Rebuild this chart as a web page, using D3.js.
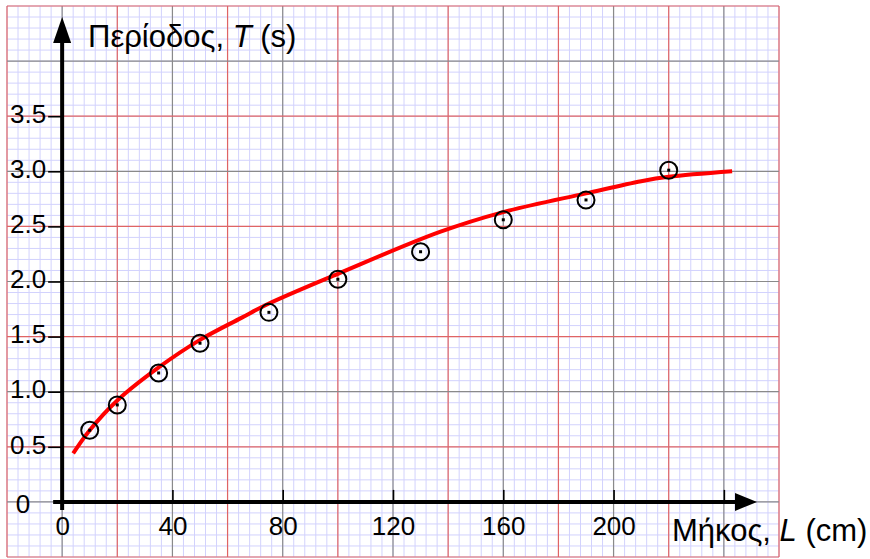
<!DOCTYPE html>
<html>
<head>
<meta charset="utf-8">
<script src="https://cdn.jsdelivr.net/npm/d3@7"></script>
<style>
  html, body { margin: 0; padding: 0; background: #fff; }
  svg { display: block; font-family: Arial, "Liberation Sans", sans-serif; }
</style>
</head>
<body>
<svg id="chart" width="870" height="559"></svg>
<script>
// Pendulum measurements: length L (cm) and period T (s)
const lengths = [10, 20, 35, 50, 75, 100, 130, 160, 190, 220];
const periods = [0.65, 0.88, 1.17, 1.44, 1.72, 2.02, 2.27, 2.56, 2.74, 3.01];

// Smooth best-fit curve through the data, sampled along L
const fitL = [4, 10, 20, 35, 50, 65, 75, 100, 137, 160, 190, 210, 220, 243];
const fitT = [0.44, 0.65, 0.92, 1.22, 1.47, 1.67, 1.80, 2.07, 2.45, 2.63, 2.80, 2.91, 2.95, 3.00];

// Tick marks on the L axis, and the ones that carry a number
const xTicks = [0, 40, 80, 120, 160, 200, 240];
const xTickLabels = ["0", "40", "80", "120", "160", "200", ""];
const yTicks = [0.5, 1.0, 1.5, 2.0, 2.5, 3.0, 3.5];

const yTitle = ["Περίοδος, ", "T", " (s)"];
const xTitle = ["Μήκος, ", "L", " (cm)"];

const svg = d3.select("#chart");

// Graph-paper extent in data units
const x = d3.scaleLinear().domain([-20, 260]).range([7, 779]);
const y = d3.scaleLinear().domain([-0.5, 4.5]).range([557, 6]);

const [x0, x1] = x.range();
const [y0, y1] = y.range();

// Minor grid (5 divisions per major square)
const grid = svg.append("g");
const minorX = d3.range(-20, 260.01, 4);
const minorY = d3.range(-0.5, 4.501, 0.1);
grid.selectAll(".mx").data(minorX).join("line")
  .attr("x1", d => x(d)).attr("x2", d => x(d))
  .attr("y1", y1).attr("y2", y0)
  .attr("stroke", "#d2d2fd").attr("stroke-width", 1);
grid.selectAll(".my").data(minorY).join("line")
  .attr("x1", x0).attr("x2", x1)
  .attr("y1", d => y(d)).attr("y2", d => y(d))
  .attr("stroke", "#d2d2fd").attr("stroke-width", 1);

// Major grid: grey on whole units / multiples of 40, red halfway between
const majorX = d3.range(-20, 260.01, 20);
const majorY = d3.range(-0.5, 4.501, 0.5);
const isGreyX = d => Math.round(d) % 40 === 0;
const isGreyY = d => Math.abs(d - Math.round(d)) < 1e-6;
grid.selectAll(".Mx").data(majorX).join("line")
  .attr("x1", d => x(d)).attr("x2", d => x(d))
  .attr("y1", y1).attr("y2", y0)
  .attr("stroke", d => isGreyX(d) ? "#8a8a8a" : "#e06464")
  .attr("stroke-width", 1.2);
grid.selectAll(".My").data(majorY).join("line")
  .attr("x1", x0).attr("x2", x1)
  .attr("y1", d => y(d)).attr("y2", d => y(d))
  .attr("stroke", d => isGreyY(d) ? "#8a8a8a" : "#e06464")
  .attr("stroke-width", 1.2);

// Axes
const axisColor = "#000";
const ax = svg.append("g");

// Vertical axis line with arrow
ax.append("line")
  .attr("x1", x(0)).attr("x2", x(0))
  .attr("y1", y(0) + 8).attr("y2", 38)
  .attr("stroke", axisColor).attr("stroke-width", 4);
ax.append("path")
  .attr("d", `M${x(0)},17 L${x(0) - 9},43 L${x(0) + 9},43 Z`)
  .attr("fill", axisColor);

// Horizontal axis line with arrow
ax.append("line")
  .attr("x1", x(0) - 9).attr("x2", 740)
  .attr("y1", y(0)).attr("y2", y(0))
  .attr("stroke", axisColor).attr("stroke-width", 4);
ax.append("path")
  .attr("d", `M757,${y(0)} L735,${y(0) - 9} L735,${y(0) + 9} Z`)
  .attr("fill", axisColor);

// Y ticks and labels
const yAxis = d3.axisLeft(y).tickValues(yTicks)
  .tickFormat(d3.format(".1f")).tickSizeInner(14).tickSizeOuter(0).tickPadding(2);
const gy = svg.append("g").attr("transform", `translate(${x(0)},0)`).call(yAxis);
gy.select(".domain").remove();
gy.selectAll(".tick line").attr("stroke", "#000").attr("stroke-width", 1.6);
gy.selectAll(".tick text").attr("font-size", 26).attr("fill", "#000")
  .attr("font-family", "Arial, 'Liberation Sans', sans-serif").attr("dy", "0.24em");

// X ticks (pointing up) and labels below the axis
const xAxis = d3.axisBottom(x).tickValues(xTicks)
  .tickFormat((d, i) => xTickLabels[i]).tickSizeInner(-12).tickSizeOuter(0).tickPadding(15);
const gx = svg.append("g").attr("transform", `translate(0,${y(0)})`).call(xAxis);
gx.select(".domain").remove();
gx.selectAll(".tick line").attr("stroke", "#000").attr("stroke-width", 1.6)
  .filter(d => d === 0).remove();
gx.selectAll(".tick text").attr("font-size", 26).attr("fill", "#000")
  .attr("font-family", "Arial, 'Liberation Sans', sans-serif");

// Origin label on the vertical axis
svg.append("text")
  .attr("x", 23).attr("y", y(0) + 11)
  .attr("text-anchor", "middle")
  .attr("font-size", 26).attr("fill", "#000")
  .text("0");

// Axis titles
function title(parts, px, py, size) {
  const t = svg.append("text").attr("x", px).attr("y", py)
    .attr("font-size", size).attr("fill", "#000");
  parts.forEach((p, i) => {
    t.append("tspan").text(p).attr("font-style", i === 1 ? "italic" : "normal");
  });
  return t;
}
title(yTitle, 88, 47, 31);
title(xTitle, 672, 541, 31);

// Fitted curve
const fit = fitL.map((l, i) => ({ l, t: fitT[i] }));
svg.append("path")
  .datum(fit)
  .attr("d", d3.line().x(d => x(d.l)).y(d => y(d.t)).curve(d3.curveCatmullRom))
  .attr("fill", "none")
  .attr("stroke", "#ff0000")
  .attr("stroke-width", 4)
  .attr("stroke-linecap", "butt");

// Data points: ringed dots
const pts = lengths.map((l, i) => ({ l, t: periods[i] }));
const gp = svg.append("g");
gp.selectAll("circle").data(pts).join("circle")
  .attr("cx", d => x(d.l)).attr("cy", d => y(d.t))
  .attr("r", 8.5)
  .attr("fill", "none").attr("stroke", "#000").attr("stroke-width", 2);
gp.selectAll("rect").data(pts).join("rect")
  .attr("x", d => x(d.l) - 1.5).attr("y", d => y(d.t) - 1.5)
  .attr("width", 3).attr("height", 3)
  .attr("fill", "#000");
</script>
</body>
</html>
